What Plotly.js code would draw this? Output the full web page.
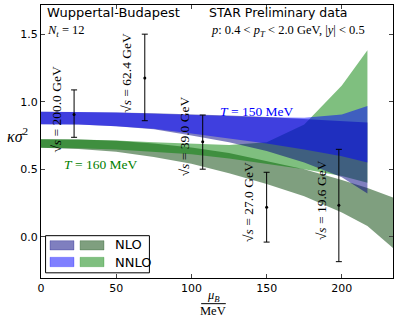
<!DOCTYPE html>
<html>
<head>
<meta charset="utf-8">
<script src="https://cdn.plot.ly/plotly-3.0.1.min.js"></script>
<style>
  html, body { margin: 0; padding: 0; background: #fff; }
  #grafico { width: 399px; height: 321px; }
</style>
</head>
<body>
<div id="grafico"></div>
<script>
// bandas (muB en MeV)
var muBand = [0, 25, 50, 75, 100, 125, 150, 175, 200, 217];
var azulNloBajo  = [0.833, 0.830, 0.818, 0.795, 0.750, 0.700, 0.635, 0.550, 0.440, 0.320];
var azulNloAlto  = [0.925, 0.924, 0.920, 0.915, 0.908, 0.898, 0.887, 0.873, 0.857, 0.845];
var azulNnloBajo = [0.833, 0.830, 0.818, 0.800, 0.765, 0.730, 0.690, 0.645, 0.595, 0.550];
var azulNnloAlto = [0.925, 0.924, 0.920, 0.913, 0.905, 0.895, 0.885, 0.880, 0.905, 0.968];
var verdeNnloBajo = [0.659, 0.655, 0.645, 0.630, 0.610, 0.580, 0.540, 0.500, 0.450, 0.400];
var verdeNnloAlto = [0.722, 0.720, 0.712, 0.700, 0.688, 0.680, 0.700, 0.830, 1.120, 1.380];

var muVerdeNlo = [0, 25, 50, 75, 100, 125, 150, 175, 200, 217, 234];
var verdeNloBajo = [0.659, 0.650, 0.630, 0.590, 0.540, 0.470, 0.390, 0.300, 0.180, 0.080, -0.084];
var verdeNloAlto = [0.722, 0.720, 0.710, 0.690, 0.660, 0.620, 0.560, 0.500, 0.420, 0.360, 0.290];

// datos STAR
var energias = ['200.0', '62.4', '39.0', '27.0', '19.6'];
var starMu = [22, 69, 107.5, 150, 198];
var starK = [0.905, 1.176, 0.704, 0.218, 0.233];
var errArriba = [0.182, 0.324, 0.197, 0.259, 0.414];
var errAbajo = [0.169, 0.317, 0.204, 0.258, 0.418];

function banda(mu, bajo, alto, color) {
  return {
    x: mu.concat(mu.slice().reverse()),
    y: bajo.concat(alto.slice().reverse()),
    type: 'scatter',
    mode: 'lines',
    fill: 'toself',
    fillcolor: color,
    line: {width: 0},
    hoverinfo: 'skip',
    showlegend: false
  };
}

var azulNlo = 'rgba(0,0,128,0.5)';
var azulNnlo = 'rgba(0,0,255,0.5)';
var verdeNlo = 'rgba(0,64,0,0.5)';
var verdeNnlo = 'rgba(0,128,0,0.5)';

var puntos = {
  x: starMu,
  y: starK,
  type: 'scatter',
  mode: 'markers',
  marker: {color: 'black', size: 3},
  error_y: {type: 'data', symmetric: false, array: errArriba, arrayminus: errAbajo,
            color: 'black', thickness: 1, width: 3},
  showlegend: false
};

var data = [
  banda(muVerdeNlo, verdeNloBajo, verdeNloAlto, verdeNlo),
  banda(muBand, verdeNnloBajo, verdeNnloAlto, verdeNnlo),
  banda(muBand, azulNloBajo, azulNloAlto, azulNlo),
  banda(muBand, azulNnloBajo, azulNnloAlto, azulNnlo),
  puntos
];

var serif = 'Liberation Serif, DejaVu Serif, serif';
var sans = 'DejaVu Sans, sans-serif';

var notas = [];
energias.forEach(function (e, i) {
  notas.push({
    x: starMu[i], y: starK[i], xref: 'x', yref: 'y',
    xanchor: 'center', yanchor: 'middle',
    text: '√<i>s</i> = ' + e + ' GeV', textangle: -90,
    showarrow: false, xshift: -18, yshift: 5,
    font: {family: serif, size: 13.5, color: 'black'}
  });
});

function texto(x, y, t, fuente, ancla, ref) {
  return {x: x, y: y, xref: ref || 'paper', yref: ref === 'x' ? 'y' : 'paper',
          xanchor: ancla || 'center', yanchor: 'middle', showarrow: false,
          text: t, font: fuente};
}

notas = notas.concat([
  texto(0.011, 0.971, 'Wuppertal-Budapest', {family: sans, size: 13, color: 'black'}, 'left'),
  texto(0.011, 0.906, '<i>N<sub>t</sub></i> = 12', {family: serif, size: 12.5, color: 'black'}, 'left'),
  texto(0.4716, 0.971, 'STAR Preliminary data', {family: sans, size: 12.5, color: 'black'}, 'left'),
  texto(0.477, 0.904, '<i>p</i>: 0.4 &lt; <i>p<sub>T</sub></i> &lt; 2.0 GeV, |<i>y</i>| &lt; 0.5',
        {family: serif, size: 12.5, color: 'black'}, 'left'),
  texto(143.6, 0.926, '<i>T</i> = 150 MeV', {family: serif, size: 13.5, color: 'blue'}, 'center', 'x'),
  texto(40, 0.531, '<i>T</i> = 160 MeV', {family: serif, size: 13.5, color: 'green'}, 'center', 'x'),
  texto(-0.066, 0.524, '<i>κσ</i><sup>2</sup>', {family: serif, size: 16, color: 'black'}),
  texto(0.49, -0.066, '<i>μ<sub>B</sub></i>', {family: serif, size: 12.5, color: 'black'}),
  texto(0.49, -0.121, 'MeV', {family: serif, size: 12.5, color: 'black'}),
  texto(0.204, 0.121, 'NLO', {family: sans, size: 13, color: 'black'}, 'left'),
  texto(0.204, 0.0586, 'NNLO', {family: sans, size: 13, color: 'black'}, 'left')
]);

function caja(x0, x1, y0, y1, relleno, borde) {
  return {type: 'rect', xref: 'paper', yref: 'paper', x0: x0, x1: x1, y0: y0, y1: y1,
          fillcolor: relleno, line: {color: borde, width: 1}};
}

var formas = [
  // leyenda
  caja(0.013, 0.308, 0.019, 0.155, 'white', 'black'),
  caja(0.0256, 0.0937, 0.1026, 0.1366, azulNlo, 'rgba(0,0,128,0.25)'),
  caja(0.111, 0.179, 0.1026, 0.1366, verdeNlo, 'rgba(0,64,0,0.25)'),
  caja(0.0256, 0.0937, 0.0414, 0.0758, azulNnlo, 'rgba(0,0,255,0.25)'),
  caja(0.111, 0.179, 0.0414, 0.0758, verdeNnlo, 'rgba(0,128,0,0.25)'),
  // linea de la fraccion
  {type: 'line', xref: 'paper', yref: 'paper', x0: 0.455, x1: 0.525, y0: -0.094, y1: -0.094,
   line: {color: 'black', width: 1}}
];

var layout = {
  width: 399, height: 321,
  margin: {l: 41, r: 6, t: 5, b: 43},
  paper_bgcolor: 'white', plot_bgcolor: 'white',
  showlegend: false,
  xaxis: {range: [0, 234], tickvals: [0, 50, 100, 150, 200], ticks: 'inside', ticklen: 4,
          showgrid: false, zeroline: false, showline: true, linecolor: 'black', linewidth: 1,
          mirror: 'ticks', tickfont: {family: sans, size: 11, color: 'black'}},
  yaxis: {range: [-0.306, 1.716], tickvals: [0, 0.5, 1.0, 1.5], tickformat: '.1f',
          ticks: 'inside', ticklen: 4, showgrid: false, zeroline: false, showline: true,
          linecolor: 'black', linewidth: 1, mirror: 'ticks',
          tickfont: {family: sans, size: 11, color: 'black'}},
  annotations: notas,
  shapes: formas
};

Plotly.newPlot('grafico', data, layout, {displayModeBar: false, staticPlot: true});
</script>
</body>
</html>
